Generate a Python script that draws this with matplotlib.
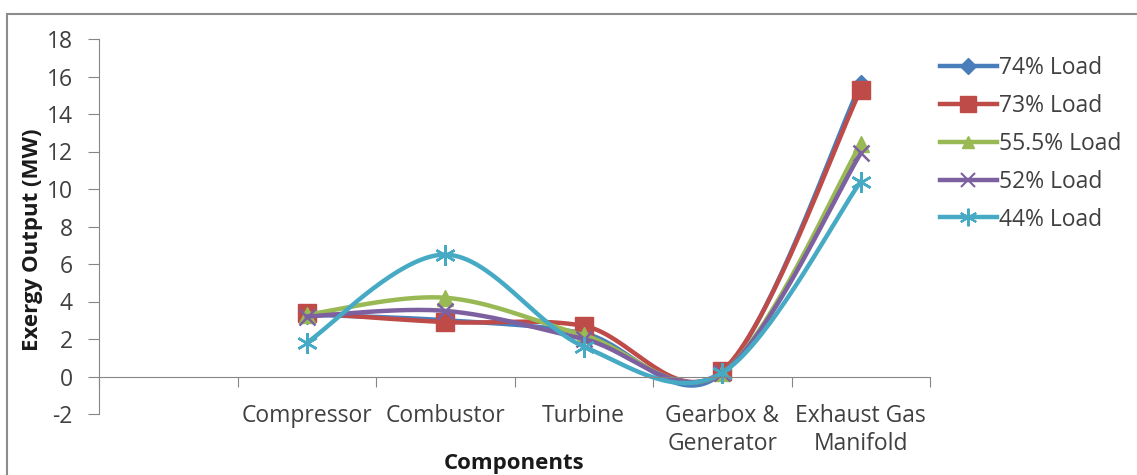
import matplotlib.pyplot as plt
import numpy as np
from matplotlib.patches import Rectangle

plt.rcParams['font.family'] = ['Open Sans', 'DejaVu Sans']
plt.rcParams['axes.unicode_minus'] = False

# Data (first category slot is empty in the original chart)
components = ["", "Compressor", "Combustor", "Turbine", "Gearbox &\nGenerator", "Exhaust Gas\nManifold"]
load_74 = [np.nan, 3.3, 3.0, 2.3, 0.2, 15.6]
load_73 = [np.nan, 3.4, 2.9, 2.7, 0.3, 15.3]
load_555 = [np.nan, 3.3, 4.2, 2.2, 0.2, 12.4]
load_52 = [np.nan, 3.2, 3.5, 2.0, 0.2, 11.9]
load_44 = [np.nan, 1.8, 6.5, 1.6, 0.2, 10.4]
labels = ["74% Load", "73% Load", "55.5% Load", "52% Load", "44% Load"]

colors = ["#4A7EBB", "#BE4B48", "#98B954", "#7D60A0", "#46AAC5"]
markers = ["D", "s", "^", "x", (6, 2, 0)]
msizes = [9, 13, 11, 12, 15]


def smooth(xs, ys, n=40):
    # Catmull-Rom style bezier smoothing (like Excel's smoothed line)
    xs = np.asarray(xs, float)
    ys = np.asarray(ys, float)
    out_x, out_y = [], []
    m = len(xs)
    for i in range(m - 1):
        p0 = np.array([xs[max(i - 1, 0)], ys[max(i - 1, 0)]])
        p1 = np.array([xs[i], ys[i]])
        p2 = np.array([xs[i + 1], ys[i + 1]])
        p3 = np.array([xs[min(i + 2, m - 1)], ys[min(i + 2, m - 1)]])
        c1 = p1 + (p2 - p0) / 6
        c2 = p2 - (p3 - p1) / 6
        t = np.linspace(0, 1, n)[:, None]
        pts = (1 - t) ** 3 * p1 + 3 * (1 - t) ** 2 * t * c1 + 3 * (1 - t) * t ** 2 * c2 + t ** 3 * p2
        out_x.extend(pts[:, 0])
        out_y.extend(pts[:, 1])
    return np.array(out_x), np.array(out_y)


fig = plt.figure(figsize=(11.37, 4.75), dpi=100)
fig.patches.append(Rectangle((7 / 1137, -0.05), 1.2, 1.05 - 14 / 475,
                             transform=fig.transFigure, fill=False,
                             edgecolor="#8c8c8c", linewidth=1.5))
ax = fig.add_axes([99 / 1137, 61 / 475, 831 / 1137, 375 / 475])

x = np.arange(len(components))
series = [load_74, load_73, load_555, load_52, load_44]
for vals, lab, c, mk, ms in zip(series, labels, colors, markers, msizes):
    vals = np.array(vals)
    ok = ~np.isnan(vals)
    sx, sy = smooth(x[ok], vals[ok])
    thin = mk == "x" or isinstance(mk, tuple)
    ax.plot(sx, sy, color=c, linewidth=3.2)
    ax.plot(x[ok], vals[ok], linestyle="none", marker=mk, color=c, markersize=ms,
            markeredgewidth=1.8 if thin else 1)
    ax.plot([], [], color=c, linewidth=3.2, marker=mk, markersize=ms * 0.85,
            markeredgewidth=1.5 if thin else 1, label=lab)

ax.set_xlim(-0.5, len(components) - 0.5)
ax.set_ylim(-2, 18)
ax.set_yticks(np.arange(-2, 19, 2))
ax.set_xticks(np.arange(-0.5, len(components), 1))
ax.set_xticklabels([])
ax.set_xticks(x, minor=True)
ax.set_xticklabels(components, minor=True, linespacing=1.55)
ax.tick_params(axis="x", which="minor", length=0, pad=20, labelsize=16.5, labelcolor="#404040")
ax.tick_params(axis="x", which="major", length=7, direction="out", color="#868686")
ax.tick_params(axis="y", length=8, direction="out", color="#868686", labelsize=16.5,
               labelcolor="#404040", pad=11)

for s in ["top", "right"]:
    ax.spines[s].set_visible(False)
ax.spines["bottom"].set_position(("data", 0))
ax.spines["bottom"].set_color("#868686")
ax.spines["left"].set_color("#868686")

fig.text(33 / 1137, 235 / 475, "Exergy Output (MW)", fontsize=16, fontweight="bold",
         rotation=90, ha="center", va="center", color="#1a1a1a")
fig.text(514 / 1137, 11 / 475, "Components", fontsize=16, fontweight="bold",
         ha="center", va="center", color="#1a1a1a")

ax.legend(loc="upper left", bbox_to_anchor=(0.995, 0.99), frameon=False,
          fontsize=16.5, handlelength=2.5, labelspacing=0.6, handletextpad=0.1,
          borderaxespad=0.2, labelcolor="#404040")

fig.savefig("out.png", dpi=100)
